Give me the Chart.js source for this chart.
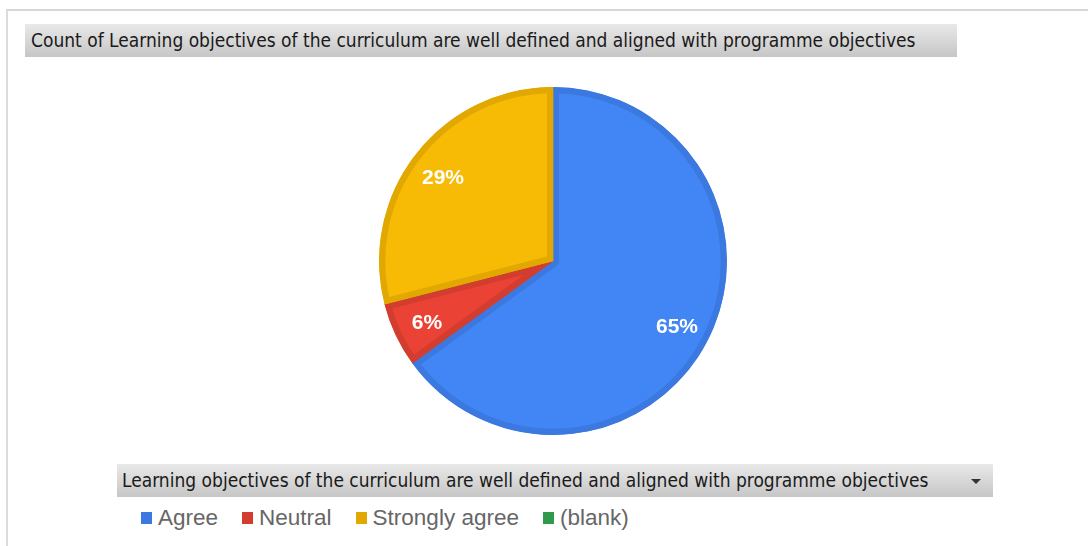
<!DOCTYPE html>
<html>
<head>
<meta charset="utf-8">
<script src="https://cdn.jsdelivr.net/npm/chart.js@4"></script>
<style>
  body { margin: 0; background: #fff; width: 1088px; height: 546px; overflow: hidden; position: relative; }
  #frame { position: absolute; left: 6px; top: 9px; width: 1090px; height: 560px; border-left: 2px solid #dcdcdc; border-top: 2px solid #d6d6d6; }
  .bar { position: absolute; background: linear-gradient(#e9e9e9, #c6c6c6); color: #1a1a1a;
         font-family: "DejaVu Sans Condensed", "DejaVu Sans", sans-serif; font-size: 19px; line-height: 33px; white-space: nowrap; }
  #title { left: 25px; top: 24px; width: 926px; height: 33px; padding-left: 6px; }
  #filter { left: 117px; top: 464px; width: 871px; height: 33px; padding-left: 5px; }
  #arrow { position: absolute; left: 971px; top: 479px; width: 0; height: 0;
           border-left: 5px solid transparent; border-right: 5px solid transparent; border-top: 5px solid #333; }
  #pieWrap { position: absolute; left: 379px; top: 87px; width: 348px; height: 348px; }
  #legend { position: absolute; left: 141px; top: 505px; font-family: "Liberation Sans", Arial, sans-serif; font-size: 22.5px; color: #666; white-space: nowrap; }
  #legend span.item { display: inline-block; margin-right: 24px; }
  #legend i { display: inline-block; width: 11px; height: 12px; margin-right: 6px; vertical-align: 1px; }
</style>
</head>
<body>
<div id="frame"></div>
<div class="bar" id="title">Count of Learning objectives of the curriculum are well defined and aligned with programme objectives</div>
<div id="pieWrap"><canvas id="pieChart"></canvas></div>
<div class="bar" id="filter">Learning objectives of the curriculum are well defined and aligned with programme objectives</div>
<div id="arrow"></div>
<div id="legend"></div>
<script>
  const categories = ['Agree', 'Neutral', 'Strongly agree', '(blank)'];
  const shares = [65, 6, 29, 0];
  const fillColors = ['#4285f4', '#ea4335', '#f8bb05', '#34a853'];
  const edgeColors = ['#3b78e0', '#d23d30', '#e0a800', '#2f9a4b'];

  // white percentage labels inside the slices
  const sliceLabels = {
    id: 'sliceLabels',
    afterDatasetsDraw(chart) {
      const ctx = chart.ctx;
      const meta = chart.getDatasetMeta(0);
      const total = shares.reduce((a, b) => a + b, 0);
      ctx.save();
      ctx.fillStyle = '#fff';
      ctx.font = 'bold 21px "Liberation Sans", Arial, sans-serif';
      ctx.textAlign = 'center';
      ctx.textBaseline = 'middle';
      meta.data.forEach((arc, i) => {
        if (!shares[i]) return;
        const mid = (arc.startAngle + arc.endAngle) / 2;
        const r = arc.outerRadius * 0.8;
        ctx.fillText(Math.round(shares[i] / total * 100) + '%', arc.x + Math.cos(mid) * r, arc.y + Math.sin(mid) * r + 3);
      });
      ctx.restore();
    }
  };

  const pie = new Chart(document.getElementById('pieChart'), {
    type: 'pie',
    data: {
      labels: categories,
      datasets: [{
        data: shares,
        backgroundColor: fillColors,
        borderColor: edgeColors,
        borderWidth: 6,
        borderAlign: 'inner',
        hoverOffset: 0
      }]
    },
    options: {
      responsive: true,
      maintainAspectRatio: false,
      animation: false,
      layout: { padding: 0 },
      plugins: {
        legend: { display: false },
        tooltip: { enabled: false }
      }
    },
    plugins: [sliceLabels]
  });

  // legend below the filter bar
  const legendBox = document.getElementById('legend');
  Chart.overrides.pie.plugins.legend.labels.generateLabels(pie).forEach((item, i) => {
    const el = document.createElement('span');
    el.className = 'item';
    el.innerHTML = '<i style="background:' + edgeColors[i] + '"></i>' + item.text;
    legendBox.appendChild(el);
  });
</script>
</body>
</html>
